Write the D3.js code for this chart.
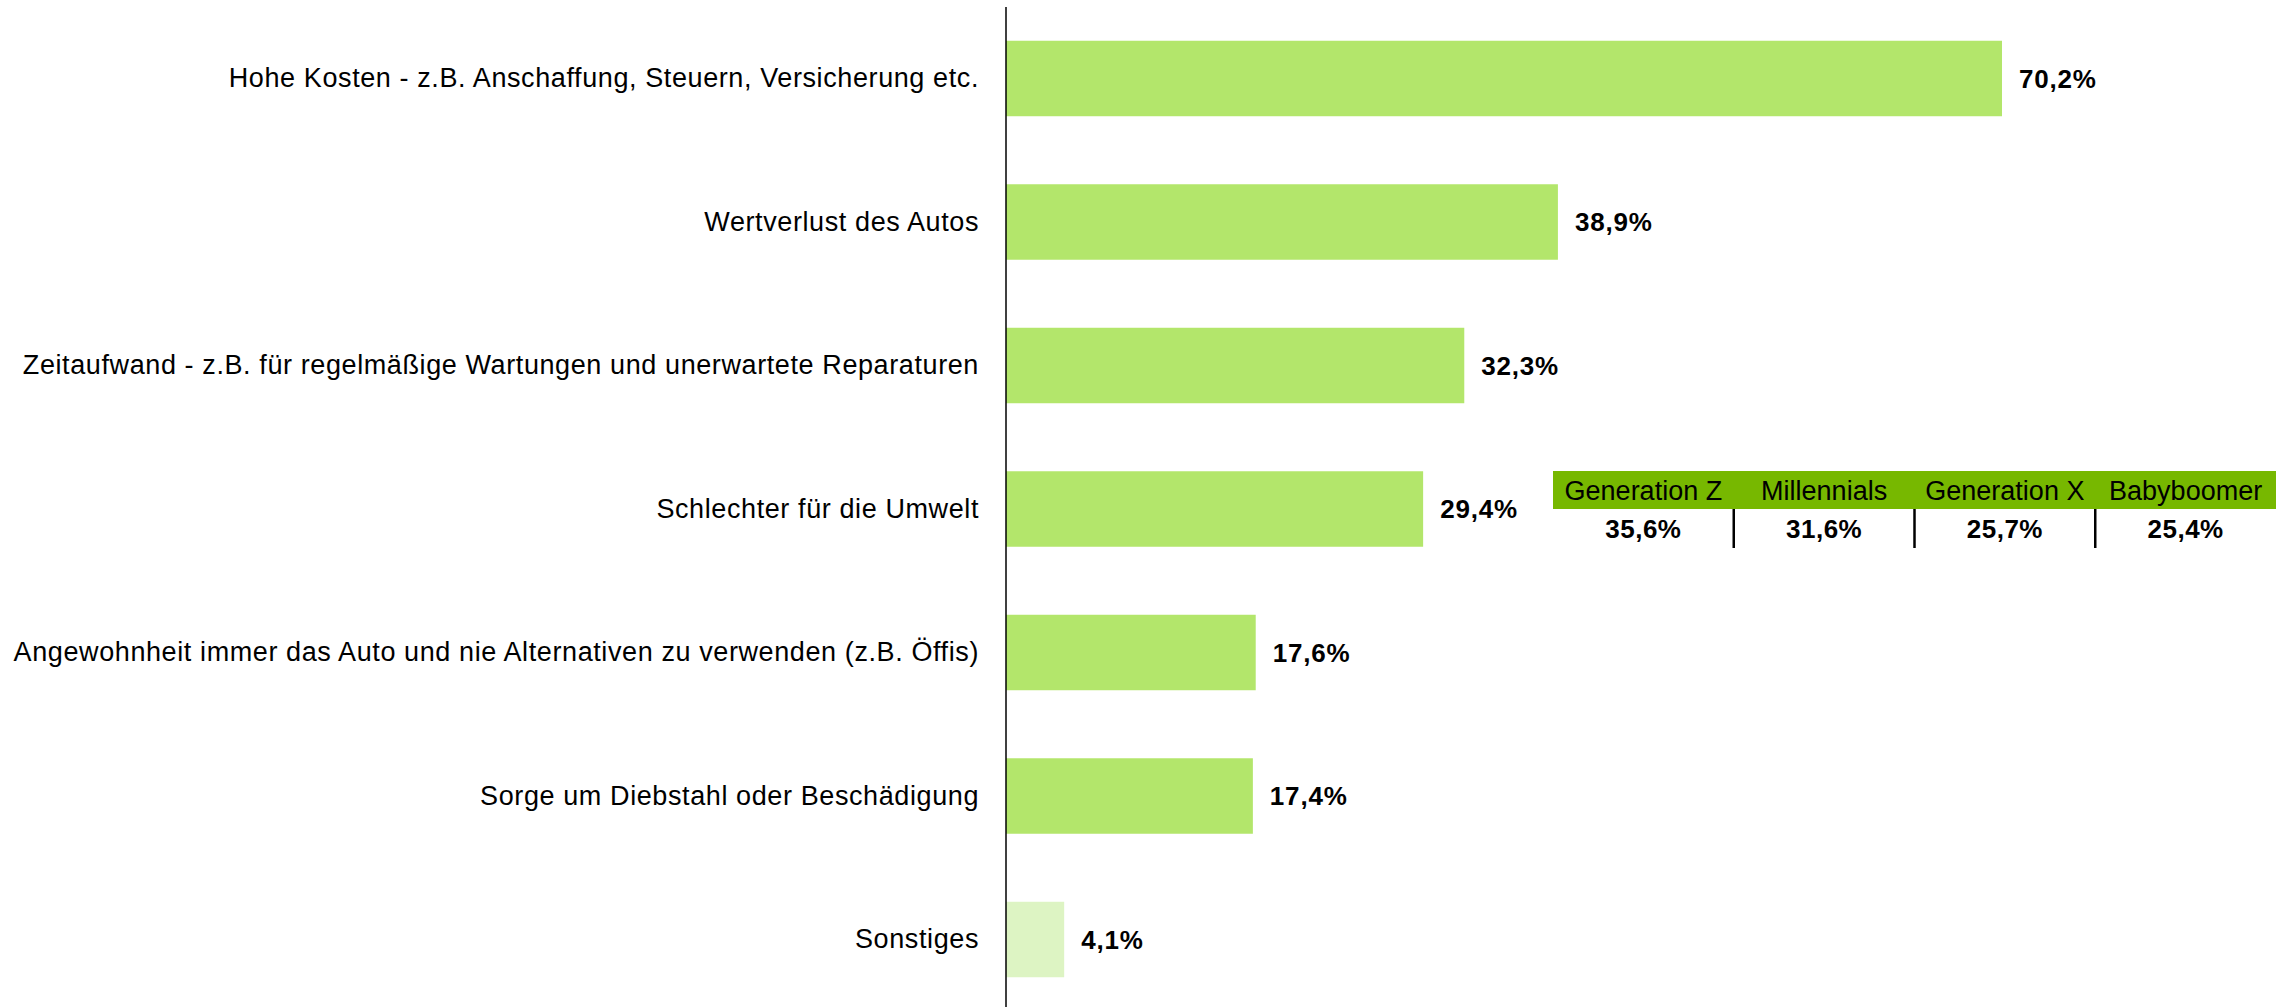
<!DOCTYPE html>
<html>
<head>
<meta charset="utf-8">
<script src="https://cdn.jsdelivr.net/npm/d3@7"></script>
<style>
  body { margin: 0; background: #fff; }
  svg { display: block; font-family: "Liberation Sans", Arial, sans-serif; }
</style>
</head>
<body>
<svg id="chart" width="2285" height="1007"></svg>
<script>
const categories = [
  "Hohe Kosten - z.B. Anschaffung, Steuern, Versicherung etc.",
  "Wertverlust des Autos",
  "Zeitaufwand - z.B. für regelmäßige Wartungen und unerwartete Reparaturen",
  "Schlechter für die Umwelt",
  "Angewohnheit immer das Auto und nie Alternativen zu verwenden (z.B. Öffis)",
  "Sorge um Diebstahl oder Beschädigung",
  "Sonstiges"
];
const values = [70.2, 38.9, 32.3, 29.4, 17.6, 17.4, 4.1];

const generations = ["Generation Z", "Millennials", "Generation X", "Babyboomer"];
const genValues = [35.6, 31.6, 25.7, 25.4];

const fmt = v => d3.format(".1f")(v).replace(".", ",") + "%";

const svg = d3.select("#chart");
const axisX = 1006;

const x = d3.scaleLinear()
  .domain([0, 70.2])
  .range([axisX, 2002]);

const y = d3.scaleBand()
  .domain(categories)
  .range([-31, 1049])
  .paddingInner(0.474)
  .paddingOuter(0.5);

// bars
svg.append("g")
  .selectAll("rect")
  .data(values)
  .join("rect")
  .attr("x", x(0))
  .attr("y", (d, i) => y(categories[i]))
  .attr("width", d => x(d) - x(0))
  .attr("height", y.bandwidth())
  .attr("fill", (d, i) => categories[i] === "Sonstiges" ? "#ddf4c3" : "#b3e66b");

// value labels
svg.append("g")
  .selectAll("text")
  .data(values)
  .join("text")
  .attr("x", d => x(d) + 17)
  .attr("y", (d, i) => y(categories[i]) + y.bandwidth() / 2)
  .attr("dy", "0.36em")
  .attr("font-size", 26)
  .attr("font-weight", "bold")
  .attr("letter-spacing", 0.8)
  .attr("fill", "#000")
  .text(d => fmt(d));

// category axis
const axis = svg.append("g")
  .attr("transform", `translate(${axisX},0)`)
  .call(d3.axisLeft(y).tickSize(0).tickPadding(27));
axis.select(".domain").remove();
axis.append("line")
  .attr("y1", 7).attr("y2", 1007)
  .attr("stroke", "#000").attr("stroke-width", 1.5);
axis.selectAll(".tick text")
  .attr("font-family", "'Liberation Sans', Arial, sans-serif")
  .attr("font-size", 27)
  .attr("letter-spacing", 0.6)
  .attr("fill", "#000");

// generation table
const gx = d3.scaleBand()
  .domain(generations)
  .range([1553, 2276]);

const table = svg.append("g");
table.append("rect")
  .attr("x", gx.range()[0])
  .attr("y", 471)
  .attr("width", gx.range()[1] - gx.range()[0])
  .attr("height", 38)
  .attr("fill", "#77b800");

table.selectAll(".gen")
  .data(generations)
  .join("text")
  .attr("class", "gen")
  .attr("x", d => gx(d) + gx.bandwidth() / 2)
  .attr("y", 490)
  .attr("dy", "0.36em")
  .attr("text-anchor", "middle")
  .attr("font-size", 27)
  .attr("fill", "#000")
  .text(d => d);

table.selectAll(".genval")
  .data(genValues)
  .join("text")
  .attr("class", "genval")
  .attr("x", (d, i) => gx(generations[i]) + gx.bandwidth() / 2)
  .attr("y", 529)
  .attr("dy", "0.36em")
  .attr("text-anchor", "middle")
  .attr("font-size", 26)
  .attr("font-weight", "bold")
  .attr("letter-spacing", 0.5)
  .attr("fill", "#000")
  .text(d => fmt(d));

table.selectAll(".sep")
  .data(generations.slice(1))
  .join("line")
  .attr("class", "sep")
  .attr("x1", d => gx(d)).attr("x2", d => gx(d))
  .attr("y1", 509).attr("y2", 548)
  .attr("stroke", "#000").attr("stroke-width", 2.5);
</script>
</body>
</html>
